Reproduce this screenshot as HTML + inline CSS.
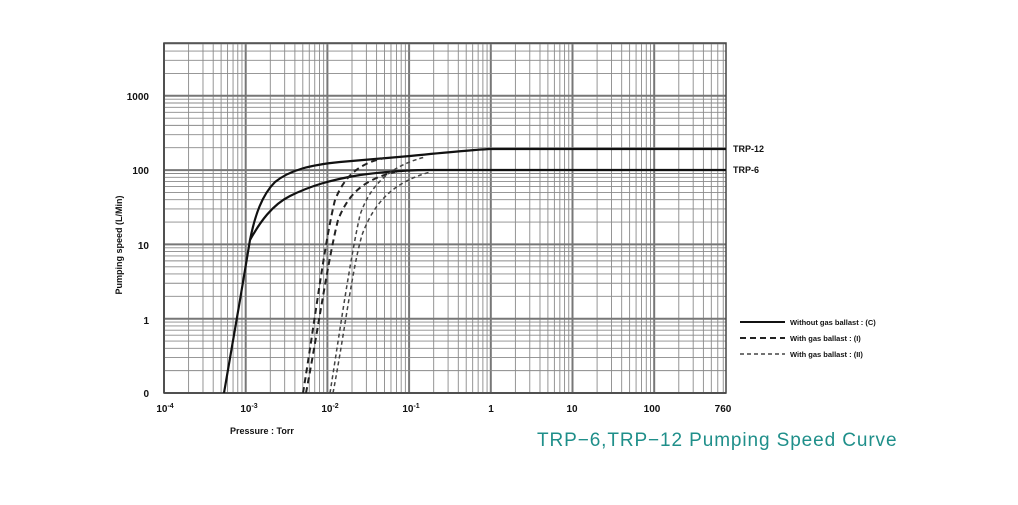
<!DOCTYPE html>
<html><head><meta charset="utf-8"><style>
body{margin:0;background:#fff;width:1018px;height:500px;overflow:hidden}
svg text{font-family:"Liberation Sans",sans-serif}
</style></head><body>
<svg id="s" width="1018" height="500" xmlns="http://www.w3.org/2000/svg">
<g id="grid"></g>
<g fill="none" stroke="#111" stroke-width="2.2">
<path d="M224,393 L240,300 L250,240 C255,215 262,195 275,182 C290,170 310,165 340,162 L410,156 C450,152 470,150 490,149 L726,149"/>
<path d="M250,240 C260,222 272,205 290,196 C310,186 330,180 360,175 C390,171 410,170 430,170 L726,170"/>
</g>
<g fill="none" stroke="#222" stroke-width="2" stroke-dasharray="6,4">
<path d="M303,393 C315,320 325,240 335,200 C345,175 360,163 385,158"/>
<path d="M306,393 C318,330 328,260 338,220 C348,195 362,180 395,172"/>
</g>
<g fill="none" stroke="#444" stroke-width="1.5" stroke-dasharray="4,3">
<path d="M330,393 C340,330 350,260 360,215 C372,180 395,165 425,157"/>
<path d="M333,393 C345,330 352,270 362,235 C375,200 395,182 430,172"/>
</g>
<g font-weight="bold" font-size="10" fill="#111">
<text x="149" y="100" text-anchor="end">1000</text>
<text x="149" y="174" text-anchor="end">100</text>
<text x="149" y="249" text-anchor="end">10</text>
<text x="149" y="324" text-anchor="end">1</text>
<text x="149" y="397" text-anchor="end">0</text>
<text x="165" y="412" text-anchor="middle">10<tspan font-size="7" dy="-4">-4</tspan></text>
<text x="249" y="412" text-anchor="middle">10<tspan font-size="7" dy="-4">-3</tspan></text>
<text x="330" y="412" text-anchor="middle">10<tspan font-size="7" dy="-4">-2</tspan></text>
<text x="411" y="412" text-anchor="middle">10<tspan font-size="7" dy="-4">-1</tspan></text>
<text x="491" y="412" text-anchor="middle">1</text>
<text x="572" y="412" text-anchor="middle">10</text>
<text x="652" y="412" text-anchor="middle">100</text>
<text x="723" y="412" text-anchor="middle">760</text>
<text x="230" y="434" font-size="9">Pressure : Torr</text>
<text transform="translate(122,245) rotate(-90)" text-anchor="middle" font-size="9">Pumping speed (L/Min)</text>
<text x="733" y="152" font-size="9">TRP-12</text>
<text x="733" y="173" font-size="9">TRP-6</text>
<text x="790" y="325" font-size="7.5">Without gas ballast : (C)</text>
<text x="790" y="341" font-size="7.5">With gas ballast : (I)</text>
<text x="790" y="357" font-size="7.5">With gas ballast : (II)</text>
</g>
<line x1="740" y1="322" x2="785" y2="322" stroke="#111" stroke-width="2"/>
<line x1="740" y1="338" x2="785" y2="338" stroke="#222" stroke-width="2" stroke-dasharray="6,4"/>
<line x1="740" y1="354" x2="785" y2="354" stroke="#444" stroke-width="1.5" stroke-dasharray="4,3"/>
<text x="537" y="446" font-size="19" letter-spacing="0.9" fill="#1f8f8a">TRP−6,TRP−12 Pumping Speed Curve</text>
</svg>
<script>
var g=document.getElementById('grid'),h='';
var L=164,R=726,T=43,B=393,px=81.7,py=74.3;
function X(v){return L+(Math.log10(v)+4)*px}
function Y(v){return B-(Math.log10(v)+1)*py}
for(var d=-4;d<3;d++)for(var k=1;k<10;k++){var v=k*Math.pow(10,d);if(v>760)break;var x=X(v);
h+='<line x1="'+x+'" y1="'+T+'" x2="'+x+'" y2="'+B+'" stroke="'+(k==1?'#777':'#8a8a8a')+'" stroke-width="'+(k==1?2:0.9)+'"/>';}
for(var d=-1;d<4;d++)for(var k=1;k<10;k++){var v=k*Math.pow(10,d);var y=Y(v);if(y<T)break;
h+='<line x1="'+L+'" y1="'+y+'" x2="'+R+'" y2="'+y+'" stroke="'+(k==1?'#777':'#8a8a8a')+'" stroke-width="'+(k==1?2:0.9)+'"/>';}
h+='<rect x="'+L+'" y="'+T+'" width="'+(R-L)+'" height="'+(B-T)+'" fill="none" stroke="#444" stroke-width="1.5"/>';
g.innerHTML=h;
</script>
</body></html>
